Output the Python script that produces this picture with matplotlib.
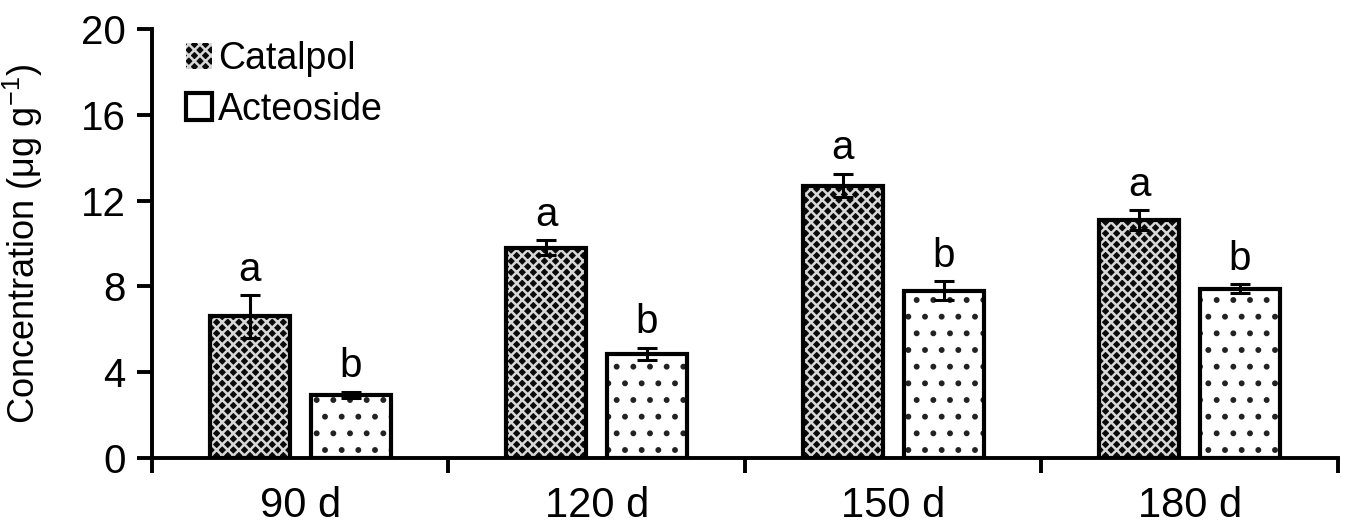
import numpy as np
import matplotlib
matplotlib.use('Agg')
import matplotlib.pyplot as plt
from matplotlib.patches import Patch

plt.rcParams['font.family'] = ['Liberation Sans', 'DejaVu Sans']
plt.rcParams['hatch.linewidth'] = 1.8

days = ['90 d', '120 d', '150 d', '180 d']
catalpol = [6.6, 9.8, 12.7, 11.1]
catalpol_err = [1.0, 0.35, 0.55, 0.45]
acteoside = [2.95, 4.85, 7.8, 7.9]
acteoside_err = [0.15, 0.3, 0.45, 0.2]
catalpol_letters = ['a', 'a', 'a', 'a']
acteoside_letters = ['b', 'b', 'b', 'b']

fig = plt.figure(figsize=(13.5, 5.32), dpi=100)
ax = fig.add_axes([0.1126, 0.139, 0.8784, 0.8065])

x = np.arange(len(days))
w = 0.27
off = 0.17

# catalpol: dark fill with light cross pattern
ax.bar(x - off, catalpol, w, color='#0a0a0a', hatch='xxx', edgecolor='#d8d8d8', linewidth=0, zorder=2)
ax.bar(x - off, catalpol, w, fill=False, edgecolor='black', linewidth=3, zorder=3)
# acteoside: white with sparse dots
ax.bar(x + off, acteoside, w, color='white', hatch='.', edgecolor='#222222', linewidth=0, zorder=2)
ax.bar(x + off, acteoside, w, fill=False, edgecolor='black', linewidth=3, zorder=3)

ax.errorbar(x - off, catalpol, yerr=catalpol_err, fmt='none', ecolor='black',
            elinewidth=2.2, capsize=7, capthick=2.2, zorder=4)
ax.errorbar(x + off, acteoside, yerr=acteoside_err, fmt='none', ecolor='black',
            elinewidth=2.2, capsize=7, capthick=2.2, zorder=4)

for i in range(len(days)):
    ax.text(x[i] - off, catalpol[i] + catalpol_err[i] + 0.3, catalpol_letters[i],
            ha='center', va='bottom', fontsize=29)
    ax.text(x[i] + off, acteoside[i] + acteoside_err[i] + 0.3, acteoside_letters[i],
            ha='center', va='bottom', fontsize=29)

ax.set_xlim(-0.5, len(days) - 0.5)
ax.set_ylim(0, 20)
ax.set_yticks([0, 4, 8, 12, 16, 20])
ax.set_xticks(x)
ax.set_xticklabels(days)
ax.set_xticks(np.arange(len(days) + 1) - 0.5, minor=True)
ax.tick_params(axis='x', which='major', length=0, pad=20, labelsize=30)
ax.tick_params(axis='x', which='minor', length=11, width=2.8, direction='out')
ax.tick_params(axis='y', length=11, width=2.8, direction='out', labelsize=29, pad=8)

for s in ['top', 'right']:
    ax.spines[s].set_visible(False)
for s in ['left', 'bottom']:
    ax.spines[s].set_linewidth(2.8)

ax.set_ylabel('Concentration (μg g$^{\\mathregular{-1}}$)', fontsize=26)
ax.yaxis.set_label_coords(-0.09, 0.5)

handles = [Patch(facecolor='#0a0a0a', hatch='xxx', edgecolor='#d8d8d8', linewidth=0),
           Patch(facecolor='white', edgecolor='black', linewidth=3)]
ax.legend(handles, ['Catalpol', 'Acteoside'], loc='upper left', bbox_to_anchor=(0.0, 1.05),
          frameon=False, fontsize=27, handlelength=0.7, handleheight=0.7,
          handletextpad=0.15, labelspacing=0.38)

fig.savefig('out.png', dpi=100)
